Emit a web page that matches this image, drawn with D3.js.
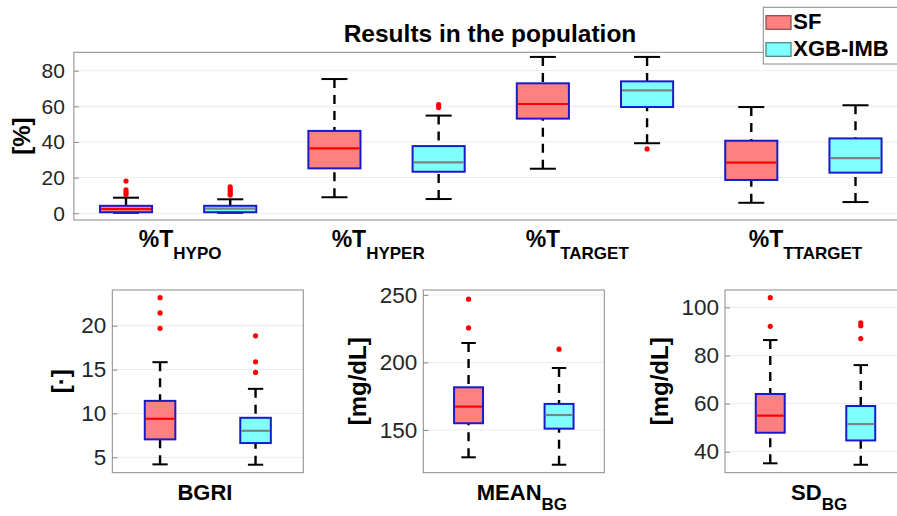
<!DOCTYPE html>
<html><head><meta charset="utf-8">
<script src="https://cdn.jsdelivr.net/npm/d3@7"></script>
<style>
body{margin:0;background:#fff}
svg{display:block;font-family:"Liberation Sans",Arial,Helvetica,sans-serif}
</style>
</head><body>
<svg id="chart" width="897" height="516" viewBox="0 0 897 516"></svg>
<script>
// ---- data ----
const seriesNames = ["SF", "XGB-IMB"];
const seriesFill = ["#ff8080", "#80ffff"];
const seriesMedian = ["#ff0000", "#808080"];
const seriesSwatchEdge = ["#8a4545", "#3f8080"];

// top panel: time-in-range metrics, one pair of boxes per category
const topCategories = ["HYPO", "HYPER", "TARGET", "TTARGET"];
const topLabelPos = [1.52, 3.42, 5.33, 7.52];
const topTicks = [0, 20, 40, 60, 80];
// each row: [lower whisker, Q1, median, Q3, upper whisker]
const sfTop = [
  [0.3, 0.6, 2.4, 4.2, 8.75],
  [9.0, 25.2, 36.4, 46.2, 75.3],
  [25.0, 53.1, 61.3, 72.9, 87.7],
  [5.9, 18.7, 28.4, 40.7, 59.6]
];
const xgbTop = [
  [0.3, 0.6, 2.6, 4.2, 7.85],
  [8.0, 23.3, 28.6, 37.7, 54.8],
  [39.3, 59.6, 69.0, 74.0, 87.7],
  [6.3, 22.8, 31.0, 42.0, 60.6]
];
const sfTopOutliers = [[10.45, 11.8, 13.1, 18.1], [], [], []];
const xgbTopOutliers = [[10.3, 11.2, 12.5, 13.6, 14.9], [59.3, 60.9], [36.1], []];

// bottom panels: glucose indices
const bottomMetrics = ["BGRI", "MEAN", "SD"];
const bottomSub = ["", "BG", "BG"];
const bottomUnits = ["[\u00b7]", "[mg/dL]", "[mg/dL]"];
const bottomLabelPos = [1.47, 1.59, 1.54];
const bgriTicks = [5, 10, 15, 20];
const meanTicks = [150, 200, 250];
const sdTicks = [40, 60, 80, 100];
const sfBottom = [
  [4.19, 7.04, 9.39, 11.43, 15.84],
  [129.8, 155.0, 167.3, 181.6, 214.4],
  [35.2, 47.9, 55.0, 64.0, 86.4]
];
const xgbBottom = [
  [4.15, 6.62, 8.02, 9.5, 12.8],
  [124.3, 151.0, 161.1, 169.3, 195.9],
  [34.6, 44.7, 51.5, 59.0, 76.0]
];
const sfBottomOutliers = [[19.7, 21.46, 23.2], [225.5, 246.8], [92.1, 104.0]];
const xgbBottomOutliers = [[14.67, 15.88, 18.84], [209.8], [87.0, 92.3, 93.6]];

// ---- layout ----
const svg = d3.select("#chart");
const TXT = "#262626";
const EDGE = "#1a1ac8";
const AXIS = "#8a8a8a";
const GRID = "#ebebeb";

function drawPanel(cfg) {
  const g = svg.append("g");
  const x = d3.scaleLinear().domain(cfg.xDomain).range([cfg.left, cfg.right]);
  const y = d3.scaleLinear().domain(cfg.yDomain).range([cfg.bottom, cfg.top]);

  // grid
  g.selectAll("line.grid").data(cfg.ticks).join("line")
    .attr("x1", cfg.left).attr("x2", cfg.right)
    .attr("y1", d => y(d)).attr("y2", d => y(d))
    .attr("stroke", GRID).attr("stroke-width", 1);

  // boxes for each series
  cfg.series.forEach((s, si) => {
    s.stats.forEach((st, i) => {
      const p = s.pos(i);
      const cx = x(p);
      const half = (x(p + cfg.boxW / 2) - x(p - cfg.boxW / 2)) / 2;
      const capHalf = half / 2;
      const [lo, q1, med, q3, hi] = st;
      const bg = g.append("g");
      // dashed whiskers
      [[q3, hi], [q1, lo]].forEach(([a, b]) => {
        bg.append("line")
          .attr("x1", cx).attr("x2", cx)
          .attr("y1", y(b)).attr("y2", y(a))
          .attr("stroke", "#000").attr("stroke-width", 2.4)
          .attr("stroke-dasharray", "9,7");
      });
      // whisker caps
      [lo, hi].forEach(v => {
        bg.append("line")
          .attr("x1", cx - capHalf).attr("x2", cx + capHalf)
          .attr("y1", y(v)).attr("y2", y(v))
          .attr("stroke", "#000").attr("stroke-width", 2);
      });
      // box
      bg.append("rect")
        .attr("x", cx - half).attr("width", 2 * half)
        .attr("y", y(q3)).attr("height", y(q1) - y(q3))
        .attr("fill", seriesFill[si])
        .attr("stroke", EDGE).attr("stroke-width", 2);
      // median
      bg.append("line")
        .attr("x1", cx - half + 1).attr("x2", cx + half - 1)
        .attr("y1", y(med)).attr("y2", y(med))
        .attr("stroke", seriesMedian[si]).attr("stroke-width", 2.2);
      // outliers
      bg.selectAll("circle").data(s.outliers[i]).join("circle")
        .attr("cx", cx).attr("cy", d => y(d)).attr("r", 2.6)
        .attr("fill", "#ff0000");
    });
  });

  // axes frame
  g.append("rect")
    .attr("x", cfg.left).attr("y", cfg.top)
    .attr("width", cfg.right - cfg.left).attr("height", cfg.bottom - cfg.top)
    .attr("fill", "none").attr("stroke", AXIS).attr("stroke-width", 1);

  // y axis ticks and labels
  const yAxis = d3.axisLeft(y).tickValues(cfg.ticks).tickSize(-5).tickPadding(cfg.tickPad);
  const ax = g.append("g").attr("transform", `translate(${cfg.left},0)`).call(yAxis);
  ax.select(".domain").remove();
  ax.selectAll(".tick line").attr("stroke", AXIS);
  ax.selectAll(".tick text")
    .attr("font-size", cfg.tickFont).attr("fill", TXT)
    .attr("font-family", "Liberation Sans, Arial, sans-serif");

  // y label
  g.append("text")
    .attr("transform", `translate(${cfg.yLabelX},${(cfg.top + cfg.bottom) / 2}) rotate(-90)`)
    .attr("text-anchor", "middle")
    .attr("font-size", 24).attr("font-weight", "bold").attr("fill", "#000")
    .text(cfg.yLabel);

  // category labels with subscripts
  cfg.labels.forEach(l => {
    const t = g.append("text")
      .attr("x", x(l.pos)).attr("y", cfg.labelY)
      .attr("text-anchor", "middle")
      .attr("font-weight", "bold").attr("fill", "#000");
    t.append("tspan").attr("font-size", cfg.labelFont).text(l.main);
    if (l.sub) t.append("tspan").attr("font-size", 17).attr("dy", cfg.subDy).text(l.sub);
  });
  return { x, y };
}

// top panel
drawPanel({
  left: 73.9, right: 907.6, top: 52.3, bottom: 220,
  xDomain: [0.5, 8.5], yDomain: [-3.76, 90.3],
  ticks: topTicks, boxW: 0.5, tickFont: 21, tickPad: 9,
  yLabel: "[%]", yLabelX: 29.5,
  labelY: 246.7, labelFont: 23, subDy: 12.3,
  labels: topCategories.map((c, i) => ({ main: "%T", sub: c, pos: topLabelPos[i] })),
  series: [
    { stats: sfTop, outliers: sfTopOutliers, pos: i => 2 * i + 1 },
    { stats: xgbTop, outliers: xgbTopOutliers, pos: i => 2 * i + 2 }
  ]
});

// bottom panels
const bottomFrames = [
  { left: 112.3, right: 303.3, yDomain: [3.24, 24.07], ticks: bgriTicks, yLabelX: 69 },
  { left: 423.3, right: 604.3, yDomain: [118.4, 253.6], ticks: meanTicks, yLabelX: 366 },
  { left: 725, right: 906, yDomain: [31.3, 107.2], ticks: sdTicks, yLabelX: 667.5 }
];
bottomFrames.forEach((f, i) => {
  drawPanel({
    left: f.left, right: f.right, top: 290, bottom: 472.7,
    xDomain: [0.5, 2.5], yDomain: f.yDomain,
    ticks: f.ticks, boxW: 0.32, tickFont: 22.5, tickPad: 6,
    yLabel: bottomUnits[i], yLabelX: f.yLabelX,
    labelY: 499.5, labelFont: 22, subDy: 10.5,
    labels: [{ main: bottomMetrics[i], sub: bottomSub[i], pos: bottomLabelPos[i] }],
    series: [
      { stats: [sfBottom[i]], outliers: [sfBottomOutliers[i]], pos: () => 1 },
      { stats: [xgbBottom[i]], outliers: [xgbBottomOutliers[i]], pos: () => 2 }
    ]
  });
});

// title
svg.append("text")
  .attr("x", 490).attr("y", 42.3)
  .attr("text-anchor", "middle")
  .attr("font-size", 24.5).attr("font-weight", "bold").attr("fill", "#000")
  .text("Results in the population");

// legend
const legend = svg.append("g");
legend.append("rect")
  .attr("x", 763.3).attr("y", 7.3).attr("width", 140).attr("height", 56.7)
  .attr("fill", "#fff").attr("stroke", AXIS).attr("stroke-width", 1);
seriesNames.forEach((name, i) => {
  const yy = 15.7 + i * 27;
  legend.append("rect")
    .attr("x", 766).attr("y", yy).attr("width", 25).attr("height", 13.6)
    .attr("fill", seriesFill[i]).attr("stroke", seriesSwatchEdge[i]).attr("stroke-width", 1.2);
  legend.append("text")
    .attr("x", 793.3).attr("y", yy + 13.6)
    .attr("font-size", 22).attr("font-weight", "bold").attr("fill", "#000")
    .text(name);
});
</script>
</body></html>
